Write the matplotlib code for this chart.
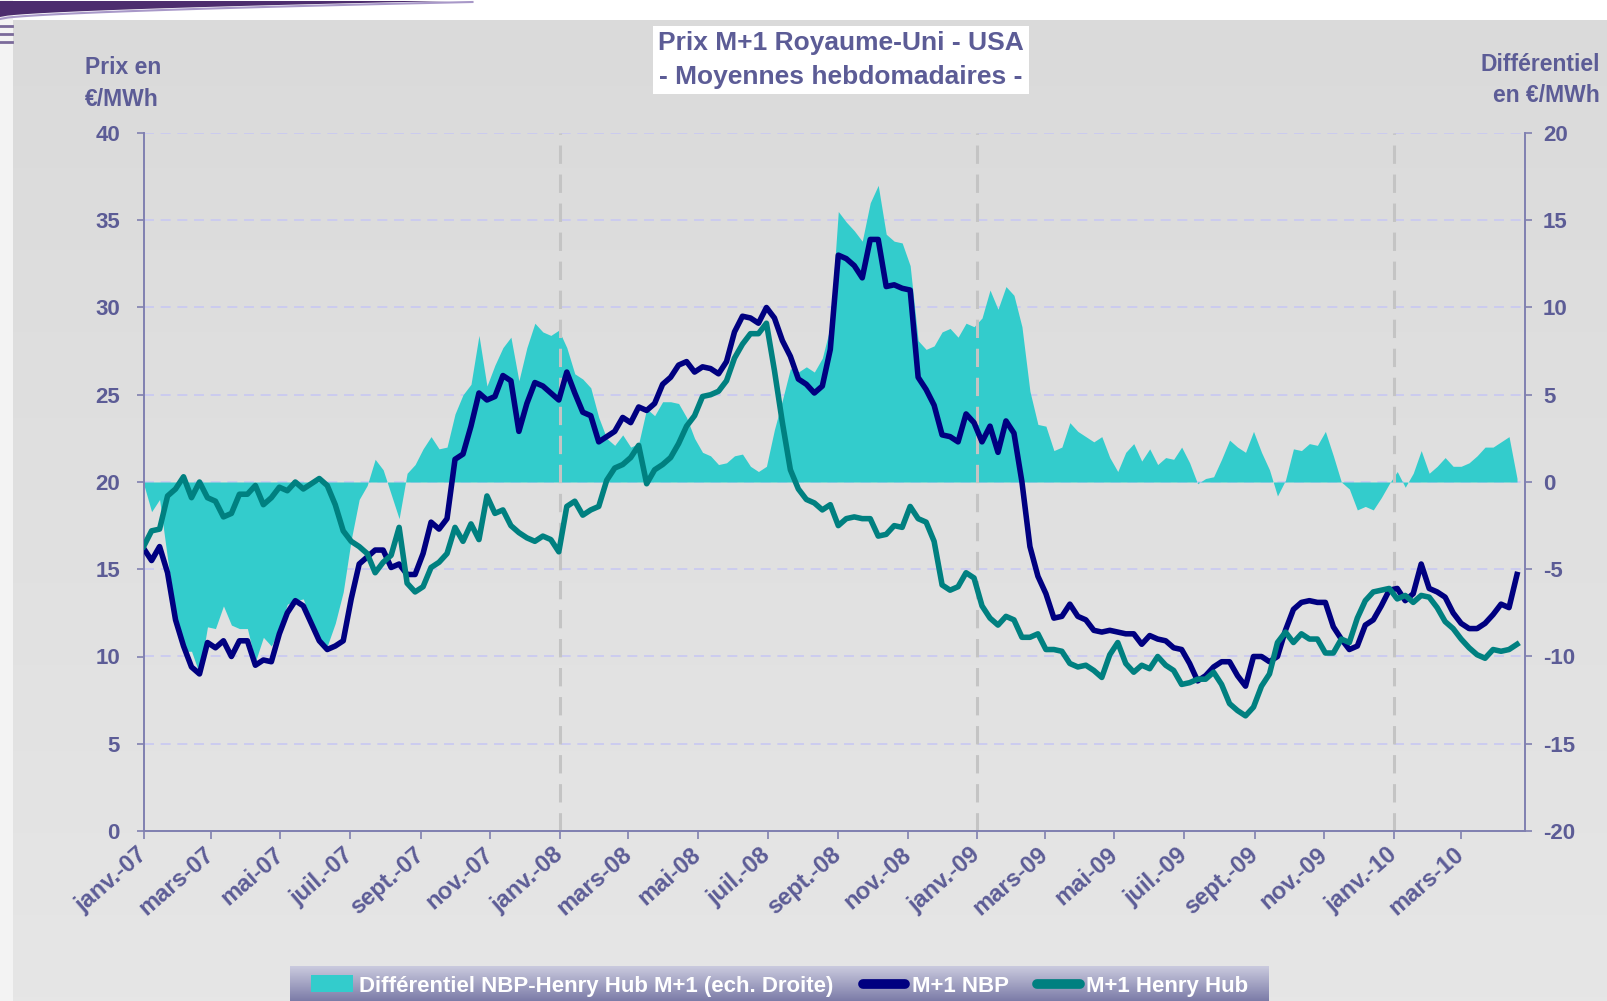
import numpy as np
import pandas as pd
import matplotlib
matplotlib.use("Agg")
import matplotlib.pyplot as plt
import matplotlib.dates as mdates
from matplotlib.ticker import FuncFormatter
from matplotlib.lines import Line2D
from matplotlib.patches import Patch, Rectangle, Polygon
from matplotlib.colors import LinearSegmentedColormap

OUT_FILE = "out.png"

START_DATE = "2007-01-01"
END_DATE = "2010-04-26"

# weekly averages, EUR/MWh (one value per week from START_DATE)
nbp = [
    16.2, 15.5, 16.3, 14.8, 12.1, 10.6, 9.4, 9.0, 10.8, 10.5,
    10.9, 10.0, 10.9, 10.9, 9.5, 9.8, 9.7, 11.3, 12.5, 13.2,
    12.9, 11.9, 10.9, 10.4, 10.6, 10.9, 13.3, 15.3, 15.7, 16.1,
    16.1, 15.1, 15.3, 14.7, 14.7, 15.9, 17.7, 17.3, 17.9, 21.3,
    21.6, 23.2, 25.1, 24.7, 24.9, 26.1, 25.8, 22.9, 24.5, 25.7,
    25.5, 25.1, 24.7, 26.3, 25.1, 24.0, 23.8, 22.3, 22.6, 22.9,
    23.7, 23.4, 24.3, 24.1, 24.5, 25.6, 26.0, 26.7, 26.9, 26.3,
    26.6, 26.5, 26.2, 26.9, 28.6, 29.5, 29.4, 29.1, 30.0, 29.4,
    28.1, 27.2, 25.9, 25.6, 25.1, 25.5, 27.6, 33.0, 32.8, 32.4,
    31.7, 33.9, 33.9, 31.2, 31.3, 31.1, 31.0, 26.0, 25.3, 24.4,
    22.7, 22.6, 22.3, 23.9, 23.4, 22.3, 23.2, 21.7, 23.5, 22.8,
    20.0, 16.3, 14.6, 13.6, 12.2, 12.3, 13.0, 12.3, 12.1, 11.5,
    11.4, 11.5, 11.4, 11.3, 11.3, 10.7, 11.2, 11.0, 10.9, 10.5,
    10.4, 9.6, 8.6, 8.9, 9.4, 9.7, 9.7, 8.9, 8.3, 10.0,
    10.0, 9.7, 10.0, 11.5, 12.7, 13.1, 13.2, 13.1, 13.1, 11.7,
    11.0, 10.4, 10.6, 11.8, 12.1, 12.9, 13.8, 13.9, 13.2, 13.6,
    15.3, 13.9, 13.7, 13.4, 12.5, 11.9, 11.6, 11.6, 11.9, 12.4,
    13.0, 12.8, 14.7,
]

henry_hub = [
    16.3, 17.2, 17.3, 19.2, 19.6, 20.3, 19.1, 20.0, 19.1, 18.9,
    18.0, 18.2, 19.3, 19.3, 19.8, 18.7, 19.1, 19.7, 19.5, 20.0,
    19.6, 19.9, 20.2, 19.8, 18.7, 17.2, 16.6, 16.3, 15.9, 14.8,
    15.4, 15.8, 17.4, 14.2, 13.7, 14.0, 15.1, 15.4, 15.9, 17.4,
    16.6, 17.6, 16.7, 19.2, 18.2, 18.4, 17.5, 17.1, 16.8, 16.6,
    16.9, 16.7, 16.0, 18.6, 18.9, 18.1, 18.4, 18.6, 20.1, 20.8,
    21.0, 21.4, 22.1, 19.9, 20.7, 21.0, 21.4, 22.2, 23.2, 23.8,
    24.9, 25.0, 25.2, 25.8, 27.1, 27.9, 28.5, 28.5, 29.1, 26.4,
    23.4, 20.7, 19.6, 19.0, 18.8, 18.4, 18.7, 17.5, 17.9, 18.0,
    17.9, 17.9, 16.9, 17.0, 17.5, 17.4, 18.6, 17.9, 17.7, 16.6,
    14.1, 13.8, 14.0, 14.8, 14.5, 12.9, 12.2, 11.8, 12.3, 12.1,
    11.1, 11.1, 11.3, 10.4, 10.4, 10.3, 9.6, 9.4, 9.5, 9.2,
    8.8, 10.1, 10.8, 9.6, 9.1, 9.5, 9.3, 10.0, 9.5, 9.2,
    8.4, 8.5, 8.7, 8.7, 9.1, 8.4, 7.3, 6.9, 6.6, 7.1,
    8.3, 9.0, 10.8, 11.4, 10.8, 11.3, 11.0, 11.0, 10.2, 10.2,
    11.0, 10.8, 12.2, 13.2, 13.7, 13.8, 13.9, 13.3, 13.5, 13.1,
    13.5, 13.4, 12.8, 12.0, 11.6, 11.0, 10.5, 10.1, 9.9, 10.4,
    10.3, 10.4, 10.7,
]

# NBP - Henry Hub differential, right-hand scale
differential = [
    -0.1, -1.7, -1.0, -4.4, -7.5, -9.7, -9.7, -11.0, -8.3, -8.4,
    -7.1, -8.2, -8.4, -8.4, -10.3, -8.9, -9.4, -8.4, -7.0, -6.8,
    -6.7, -8.0, -9.3, -9.4, -8.1, -6.3, -3.3, -1.0, -0.2, 1.3,
    0.7, -0.7, -2.1, 0.5, 1.0, 1.9, 2.6, 1.9, 2.0, 3.9,
    5.0, 5.6, 8.4, 5.5, 6.7, 7.7, 8.3, 5.8, 7.7, 9.1,
    8.6, 8.4, 8.7, 7.7, 6.2, 5.9, 5.4, 3.7, 2.5, 2.1,
    2.7, 2.0, 2.2, 4.2, 3.8, 4.6, 4.6, 4.5, 3.7, 2.5,
    1.7, 1.5, 1.0, 1.1, 1.5, 1.6, 0.9, 0.6, 0.9, 3.0,
    4.7, 6.5, 6.3, 6.6, 6.3, 7.1, 8.9, 15.5, 14.9, 14.4,
    13.8, 16.0, 17.0, 14.2, 13.8, 13.7, 12.4, 8.1, 7.6, 7.8,
    8.6, 8.8, 8.3, 9.1, 8.9, 9.4, 11.0, 9.9, 11.2, 10.7,
    8.9, 5.2, 3.3, 3.2, 1.8, 2.0, 3.4, 2.9, 2.6, 2.3,
    2.6, 1.4, 0.6, 1.7, 2.2, 1.2, 1.9, 1.0, 1.4, 1.3,
    2.0, 1.1, -0.1, 0.2, 0.3, 1.3, 2.4, 2.0, 1.7, 2.9,
    1.7, 0.7, -0.8, 0.1, 1.9, 1.8, 2.2, 2.1, 2.9, 1.5,
    0.0, -0.4, -1.6, -1.4, -1.6, -0.9, -0.1, 0.6, -0.3, 0.5,
    1.8, 0.5, 0.9, 1.4, 0.9, 0.9, 1.1, 1.5, 2.0, 2.0,
    2.3, 2.6, 0.2,
]

month_names = {1: "janv.", 3: "mars", 5: "mai", 7: "juil.", 9: "sept.", 11: "nov."}
left_ticks = [0, 5, 10, 15, 20, 25, 30, 35, 40]
right_ticks = [-20, -15, -10, -5, 0, 5, 10, 15, 20]
year_marks = ["2008-01-01", "2009-01-01", "2010-01-01"]

legend_labels = ["Différentiel NBP-Henry Hub M+1 (ech. Droite)", "M+1 NBP", "M+1 Henry Hub"]

FILL_COLOR = "#33CCCC"
NBP_COLOR = "#000080"
HH_COLOR = "#008080"
TEXT_COLOR = "#5c5c96"
AXIS_COLOR = "#8080b0"

W, H = 1608, 1001


def draw_background(fig):
    bg = fig.add_axes([0, 0, 1, 1], zorder=-5)
    bg.set_xlim(0, W)
    bg.set_ylim(H, 0)
    bg.axis("off")
    shade = np.linspace(0, 1, 256).reshape(-1, 1)
    cmap = LinearSegmentedColormap.from_list("bg", ["#dadada", "#e6e6e6"])
    bg.imshow(shade, extent=(0, W, H, 0), aspect="auto", cmap=cmap)
    bg.add_patch(Rectangle((0, 0), W, 20, color="white", lw=0))
    bg.add_patch(Rectangle((0, 0), 13, H, color="#f3f3f3", lw=0))

    # purple swoosh in the top-left corner of the slide
    t = np.linspace(0, 1, 60)
    xs = 450 * t
    top = 1 + 0 * t
    bottom = 17 - 16 * t ** 0.6
    pts = np.column_stack([np.r_[xs, xs[::-1]], np.r_[top, bottom[::-1]]])
    bg.add_patch(Polygon(pts, closed=True, color="#4d2d6e", lw=0))
    bg.plot(xs * 1.05, 19 - 17 * t ** 0.6, color="#a898c8", lw=1.5)
    for yy in (26, 34, 42):
        bg.plot([0, 12], [yy, yy], color="#7a6a9a", lw=2)


def draw_legend(fig):
    x0, x1, y_top = 290, 1269, 966
    lax = fig.add_axes([x0 / W, 0, (x1 - x0) / W, (H - y_top) / H], zorder=1)
    lax.axis("off")
    shade = np.linspace(0, 1, 64).reshape(-1, 1)
    cmap = LinearSegmentedColormap.from_list("leg", ["#cacade", "#7c7ca8"])
    lax.imshow(shade, extent=(0, 1, 0, 1), aspect="auto", cmap=cmap)

    handles = [
        Patch(facecolor=FILL_COLOR, edgecolor="none"),
        Line2D([], [], color=NBP_COLOR, lw=7, solid_capstyle="round"),
        Line2D([], [], color=HH_COLOR, lw=7, solid_capstyle="round"),
    ]
    leg = fig.legend(handles, legend_labels, loc="center",
                     bbox_to_anchor=((x0 + x1) / 2 / W, 1 - 986 / H),
                     ncol=3, frameon=False, fontsize=16,
                     handlelength=1.9, handleheight=0.8, handletextpad=0.3,
                     columnspacing=1.3, labelcolor="white")
    leg.set_zorder(10)


def main():
    plt.rcParams["font.family"] = ["Liberation Sans", "DejaVu Sans"]
    plt.rcParams["font.weight"] = "bold"
    plt.rcParams["axes.unicode_minus"] = False

    dates = pd.date_range(START_DATE, periods=len(nbp), freq="7D")

    fig = plt.figure(figsize=(W / 100, H / 100), dpi=100)
    draw_background(fig)

    rect = [143.6 / W, 1 - 831 / H, (1525 - 143.6) / W, (831 - 133) / H]
    ax = fig.add_axes(rect)
    ax_diff = ax.twinx()
    ax.set_zorder(ax_diff.get_zorder() + 1)
    ax.patch.set_visible(False)
    ax_diff.patch.set_facecolor("white")

    # differential area on the right-hand scale, under the price lines
    ax_diff.set_axisbelow(True)
    ax_diff.yaxis.grid(True, color="#c8c8f2", lw=1.2, dashes=(6, 4))
    ax_diff.fill_between(dates, 0, differential, color=FILL_COLOR, lw=0, zorder=2)
    ax_diff.set_ylim(-20, 20)
    ax_diff.set_yticks(right_ticks)

    for d in year_marks:
        ax.axvline(pd.Timestamp(d), color="#c4c4c4", lw=2.2, dashes=(6, 3.5), zorder=1)

    ax.plot(dates, nbp, color=NBP_COLOR, lw=4, zorder=3)
    ax.plot(dates, henry_hub, color=HH_COLOR, lw=4, zorder=4)

    ax.set_xlim(pd.Timestamp(START_DATE), pd.Timestamp(END_DATE))
    ax.set_ylim(0, 40)
    ax.set_yticks(left_ticks)

    ax.xaxis.set_major_locator(mdates.MonthLocator(bymonth=list(month_names)))
    ax.xaxis.set_major_formatter(FuncFormatter(
        lambda x, pos: f"{month_names[mdates.num2date(x).month]}-{mdates.num2date(x):%y}"))

    for a in (ax, ax_diff):
        a.spines["top"].set_visible(False)
        for s in a.spines.values():
            s.set_color(AXIS_COLOR)
            s.set_linewidth(1.4)
    ax.spines["right"].set_visible(False)
    ax_diff.spines["left"].set_visible(False)
    ax_diff.spines["bottom"].set_visible(False)

    ax.tick_params(axis="y", direction="out", length=5, width=1.2, color=AXIS_COLOR,
                   labelsize=16, labelcolor=TEXT_COLOR, pad=12)
    ax_diff.tick_params(axis="y", direction="out", length=5, width=1.2, color=AXIS_COLOR,
                        labelsize=16, labelcolor=TEXT_COLOR, pad=8)
    ax.tick_params(axis="x", direction="out", length=6, width=1.2, color=AXIS_COLOR,
                   labelsize=17, labelcolor=TEXT_COLOR, pad=9)
    plt.setp(ax.get_xticklabels(), rotation=41, ha="right", va="center",
             rotation_mode="anchor")

    # titles
    fig.text(0.523, 1 - 60 / H, "Prix M+1 Royaume-Uni - USA\n- Moyennes hebdomadaires -",
             ha="center", va="center", fontsize=19, color=TEXT_COLOR, linespacing=1.5,
             bbox=dict(boxstyle="square,pad=0.2", fc="white", ec="none"))
    fig.text(85 / W, 1 - 84 / H, "Prix en\n€/MWh", ha="left", va="center",
             fontsize=16.5, color=TEXT_COLOR, linespacing=1.5)
    fig.text(1600 / W, 1 - 80 / H, "Différentiel\nen €/MWh", ha="right", va="center",
             multialignment="right", fontsize=16.5, color=TEXT_COLOR, linespacing=1.4)

    draw_legend(fig)

    fig.savefig(OUT_FILE, dpi=100, facecolor=fig.get_facecolor())
    plt.close(fig)


if __name__ == "__main__":
    main()
